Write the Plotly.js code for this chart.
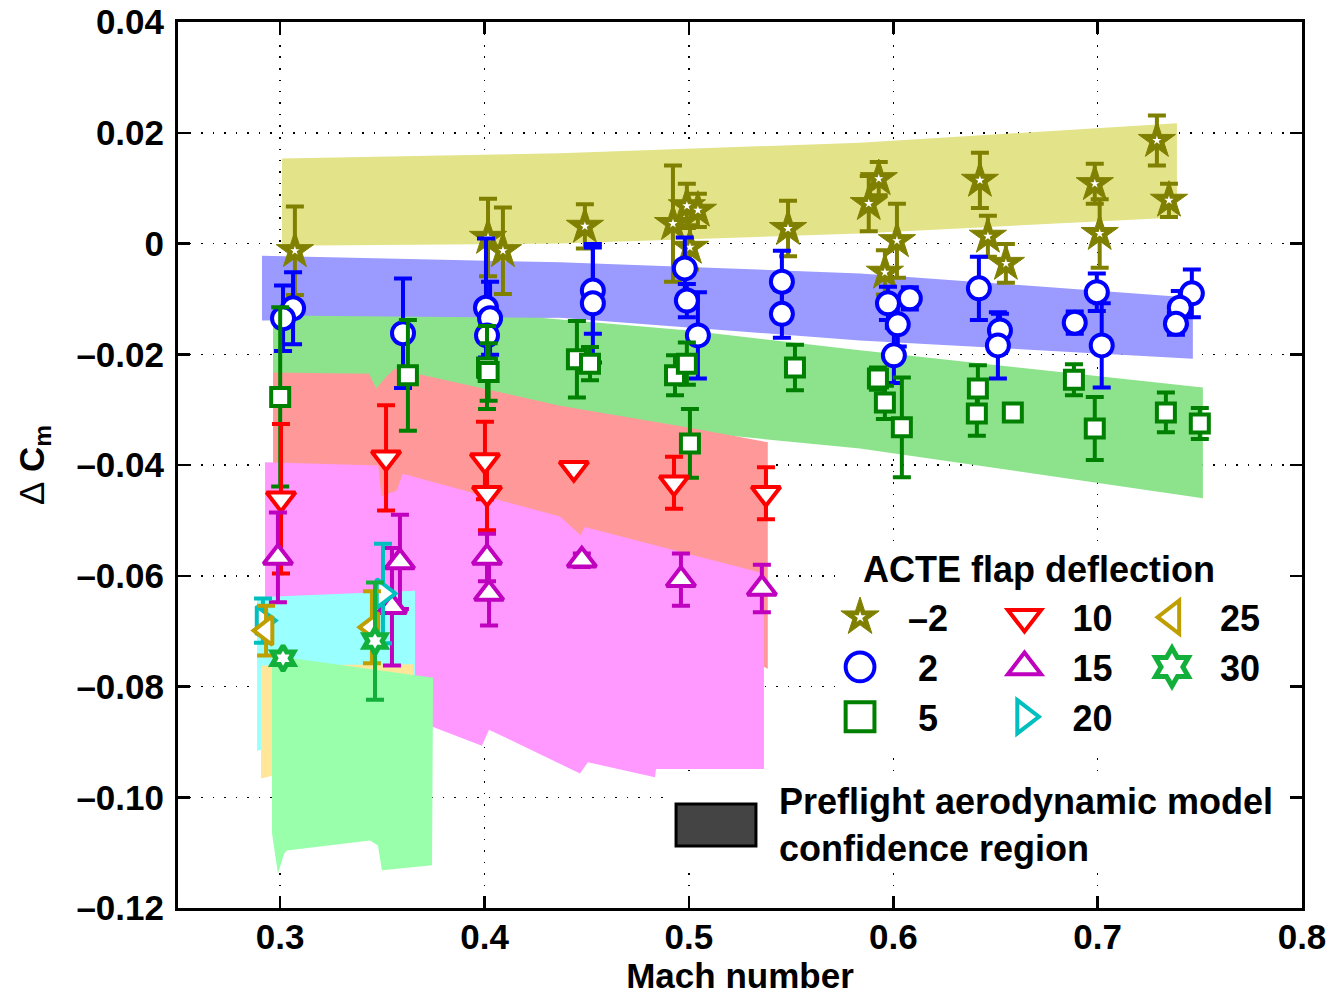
<!DOCTYPE html>
<html>
<head>
<meta charset="utf-8">
<script src="https://cdn.plot.ly/plotly-3.0.1.min.js"></script>
<style>
  html, body { margin: 0; padding: 0; background: #fff; }
  #chart { width: 1332px; height: 995px; }
</style>
</head>
<body>
<div id="chart"></div>
<script>
// ---------- Flight data: ACTE flap deflection series (Mach, delta Cm, error) ----------
const machM2 = [0.3072, 0.4017, 0.4090, 0.4491, 0.4922, 0.4990, 0.5044, 0.5005, 0.5485, 0.5929, 0.5880, 0.6018, 0.5959, 0.6424, 0.6463, 0.6551, 0.6986, 0.7010, 0.7290, 0.7349];
const dcmM2  = [-0.0013, 0.0011, -0.0013, 0.0031, 0.0036, 0.0068, 0.0060, -0.0007, 0.0027, 0.0117, 0.0072, 0.0005, -0.0052, 0.0114, 0.0013, -0.0036, 0.0108, 0.0018, 0.0186, 0.0078];
const errM2  = [0.0080, 0.0070, 0.0078, 0.0040, 0.0105, 0.0040, 0.0030, 0.0040, 0.0050, 0.0030, 0.0050, 0.0067, 0.0040, 0.0050, 0.0037, 0.0035, 0.0036, 0.0062, 0.0045, 0.0030];

const mach2 = [0.3063, 0.3014, 0.3601, 0.4007, 0.4027, 0.4012, 0.4530, 0.4530, 0.4980, 0.4990, 0.5044, 0.5455, 0.5455, 0.5974, 0.6081, 0.6022, 0.6003, 0.6419, 0.6522, 0.6512, 0.6888, 0.6996, 0.7020, 0.7461, 0.7402, 0.7383];
const dcm2  = [-0.0117, -0.0135, -0.0162, -0.0116, -0.0135, -0.0166, -0.0085, -0.0108, -0.0045, -0.0103, -0.0166, -0.0069, -0.0127, -0.0108, -0.0099, -0.0146, -0.0202, -0.0081, -0.0157, -0.0184, -0.0143, -0.0088, -0.0184, -0.0090, -0.0116, -0.0145];
const err2  = [0.0065, 0.0059, 0.0099, 0.0125, 0.0066, 0.0040, 0.0078, 0.0107, 0.0056, 0.0030, 0.0078, 0.0056, 0.0043, 0.0030, 0.0020, 0.0040, 0.0050, 0.0057, 0.0030, 0.0060, 0.0020, 0.0034, 0.0076, 0.0043, 0.0030, 0.0020];

const mach5 = [0.3000, 0.3625, 0.4012, 0.4020, 0.4452, 0.4516, 0.4932, 0.4990, 0.5005, 0.5519, 0.5925, 0.5959, 0.6042, 0.6414, 0.6409, 0.6585, 0.6884, 0.6986, 0.7334, 0.7500];
const dcm5  = [-0.0277, -0.0238, -0.0224, -0.0232, -0.0209, -0.0217, -0.0238, -0.0217, -0.0361, -0.0224, -0.0244, -0.0287, -0.0332, -0.0262, -0.0307, -0.0305, -0.0246, -0.0334, -0.0305, -0.0325];
const err5  = [0.0162, 0.0100, 0.0075, 0.0052, 0.0069, 0.0030, 0.0036, 0.0038, 0.0062, 0.0041, 0.0020, 0.0030, 0.0090, 0.0042, 0.0040, 0.0015, 0.0028, 0.0057, 0.0036, 0.0028];

const mach10 = [0.3004, 0.3518, 0.4002, 0.4012, 0.4437, 0.4927, 0.5377];
const dcm10  = [-0.0461, -0.0387, -0.0392, -0.0451, -0.0406, -0.0432, -0.0451];
const err10  = [0.0135, 0.0095, 0.0070, 0.0067, 0.0000, 0.0047, 0.0047];

const mach15 = [0.2989, 0.3586, 0.3547, 0.4012, 0.4022, 0.4476, 0.4961, 0.5357];
const dcm15  = [-0.0567, -0.0575, -0.0656, -0.0567, -0.0632, -0.0572, -0.0607, -0.0623];
const err15  = [0.0081, 0.0085, 0.0106, 0.0043, 0.0058, 0.0012, 0.0047, 0.0043];

const mach20 = [0.2916, 0.3503];
const dcm20  = [-0.0681, -0.0632];
const err20  = [0.0040, 0.0090];

const mach25 = [0.2931, 0.3449];
const dcm25  = [-0.0699, -0.0693];
const err25  = [0.0045, 0.0065];

const mach30 = [0.3014, 0.3464];
const dcm30  = [-0.0749, -0.0718];
const err30  = [0.0010, 0.0106];

// ---------- Preflight model confidence regions (upper / lower boundaries) ----------
const bandM2TopX = [0.3009, 0.4369, 0.5837, 0.7388];
const bandM2Top  = [0.01535, 0.0163, 0.0182, 0.0217];
const bandM2BotX = [0.3009, 0.4369, 0.5837, 0.7388];
const bandM2Bot  = [-0.0004, 0.0000, 0.0018, 0.0047];

const band2TopX = [0.2911, 0.4369, 0.5837, 0.7466];
const band2Top  = [-0.0022, -0.0034, -0.0054, -0.0098];
const band2BotX = [0.2911, 0.4369, 0.5837, 0.7466];
const band2Bot  = [-0.0139, -0.0134, -0.0175, -0.0208];

const band5TopX = [0.2965, 0.4271, 0.5000, 0.5837, 0.7515];
const band5Top  = [-0.0130, -0.0134, -0.0157, -0.0193, -0.0260];
const band5BotX = [0.2965, 0.4271, 0.5000, 0.5837, 0.7515];
const band5Bot  = [-0.0280, -0.0310, -0.0340, -0.0370, -0.0460];

const band10TopX = [0.2965, 0.3435, 0.3470, 0.3520, 0.3560, 0.4369, 0.4990, 0.5386];
const band10Top  = [-0.0233, -0.0235, -0.0262, -0.0240, -0.0226, -0.0293, -0.0332, -0.0359];
const band10BotX = [0.2965, 0.3500, 0.4369, 0.4990, 0.5386];
const band10Bot  = [-0.0460, -0.0510, -0.0600, -0.0700, -0.0768];

const band15TopX = [0.2926, 0.3480, 0.3495, 0.3570, 0.3600, 0.4369, 0.4470, 0.4490, 0.5367];
const band15Top  = [-0.0395, -0.0401, -0.0457, -0.0446, -0.0416, -0.0493, -0.0527, -0.0512, -0.0596];
const band15BotX = [0.2926, 0.3748, 0.3987, 0.4022, 0.4467, 0.4506, 0.4834, 0.4839, 0.5367];
const band15Bot  = [-0.0850, -0.0873, -0.0907, -0.0878, -0.0957, -0.0937, -0.0964, -0.0949, -0.0949];

const band20TopX = [0.2887, 0.3660];
const band20Top  = [-0.0639, -0.0627];
const band20BotX = [0.2887, 0.3660];
const band20Bot  = [-0.0916, -0.0850];

const band25TopX = [0.2906, 0.3650];
const band25Top  = [-0.0762, -0.0760];
const band25BotX = [0.2906, 0.3650];
const band25Bot  = [-0.0966, -0.0900];

const band30TopX = [0.2960, 0.3748];
const band30Top  = [-0.0744, -0.0784];
const band30BotX = [0.2960, 0.2989, 0.3019, 0.3033, 0.3439, 0.3478, 0.3498, 0.3743];
const band30Bot  = [-0.1065, -0.1138, -0.1102, -0.1096, -0.1078, -0.1087, -0.1132, -0.1123];

// ---------- Labels ----------
const legendLabels = ['\u20132', '\u00a02', '\u00a05', '10', '15', '20', '25', '30'];
const legendTitle = 'ACTE flap deflection';
const modelLabel = 'Preflight aerodynamic model<br>confidence region';
const xTitle = 'Mach number';
const yTitle = '<span style="font-weight:normal">\u0394</span> C<sub>m</sub>';
const xTickVals = [0.3, 0.4, 0.5, 0.6, 0.7, 0.8];
const xTickText = ['0.3', '0.4', '0.5', '0.6', '0.7', '0.8'];
const yTickVals = [-0.12, -0.10, -0.08, -0.06, -0.04, -0.02, 0, 0.02, 0.04];
const yTickText = ['\u20130.12', '\u20130.10', '\u20130.08', '\u20130.06', '\u20130.04', '\u20130.02', '0', '0.02', '0.04'];

// ---------- Build ----------
const FONT = 'Liberation Sans, Arial, Helvetica, sans-serif';

function band(topX, top, botX, bot, color) {
  return {
    type: 'scatter', mode: 'none', fill: 'toself', fillcolor: color,
    x: topX.concat(botX.slice().reverse()),
    y: top.concat(bot.slice().reverse()),
    showlegend: false, hoverinfo: 'skip'
  };
}

function series(x, y, err, name, symbol, color, size, lw, legend, fill) {
  return {
    type: 'scatter', mode: 'markers', name: name, x: x, y: y, legend: legend,
    error_y: { type: 'data', array: err, visible: true, color: color, thickness: 4, width: 9 },
    marker: { symbol: symbol, size: size, color: fill || '#ffffff', line: { color: color, width: lw } },
    cliponaxis: false
  };
}

const traces = [
  band(bandM2TopX, bandM2Top, bandM2BotX, bandM2Bot, '#e3e38a'),
  band(band2TopX, band2Top, band2BotX, band2Bot, '#9a9aff'),
  band(band5TopX, band5Top, band5BotX, band5Bot, '#8ce38c'),
  band(band10TopX, band10Top, band10BotX, band10Bot, '#ff9999'),
  band(band15TopX, band15Top, band15BotX, band15Bot, '#ff99ff'),
  band(band20TopX, band20Top, band20BotX, band20Bot, '#99ffff'),
  band(band25TopX, band25Top, band25BotX, band25Bot, '#ffe699'),
  band(band30TopX, band30Top, band30BotX, band30Bot, '#99ffaa'),

  series(machM2, dcmM2, errM2, legendLabels[0], 'star', '#808000', 28, 1, 'legend', '#808000'),
  { type: 'scatter', mode: 'markers', x: machM2, y: dcmM2, showlegend: false, hoverinfo: 'skip',
    marker: { symbol: 'star', size: 7, color: '#ffffff', line: { width: 0 } } },
  series(mach2, dcm2, err2, legendLabels[1], 'circle', '#0000ff', 22, 4, 'legend'),
  series(mach5, dcm5, err5, legendLabels[2], 'square', '#008000', 18, 4, 'legend'),
  series(mach10, dcm10, err10, legendLabels[3], 'triangle-down', '#ff0000', 25, 4, 'legend2'),
  series(mach15, dcm15, err15, legendLabels[4], 'triangle-up', '#bf00bf', 25, 4, 'legend2'),
  series(mach20, dcm20, err20, legendLabels[5], 'triangle-right', '#00bfbf', 25, 4, 'legend2'),
  series(mach25, dcm25, err25, legendLabels[6], 'triangle-left', '#bf9f00', 25, 4, 'legend3'),
  series(mach30, dcm30, err30, legendLabels[7], 'hexagram', '#12b03a', 19, 5, 'legend3')
];

function legendAt(x) {
  return {
    x: x, y: 0.362, xanchor: 'left', yanchor: 'top', orientation: 'v',
    bgcolor: 'rgba(0,0,0,0)', borderwidth: 0, itemwidth: 86, traceorder: 'normal',
    font: { family: FONT, size: 36, color: '#000', weight: 'bold' }
  };
}

const axisCommon = {
  showline: true, linecolor: '#000', linewidth: 3, mirror: 'ticks',
  ticks: 'inside', ticklen: 12, tickwidth: 2.5, tickcolor: '#000',
  showgrid: true, gridcolor: '#000', gridwidth: 1.5, griddash: '1.5px,10px',
  zeroline: false, tickmode: 'array',
  tickfont: { family: FONT, size: 35, color: '#000', weight: 'bold' }
};

const layout = {
  width: 1332, height: 995,
  margin: { l: 178, r: 30, t: 22, b: 87 },
  paper_bgcolor: '#fff', plot_bgcolor: '#fff',
  font: { family: FONT, color: '#000', weight: 'bold' },
  xaxis: Object.assign({}, axisCommon, {
    range: [0.25, 0.8], tickvals: xTickVals, ticktext: xTickText, ticklabelstandoff: -4,
    title: { text: xTitle, standoff: 14, font: { family: FONT, size: 35, color: '#000', weight: 'bold' } }
  }),
  yaxis: Object.assign({}, axisCommon, {
    range: [-0.12, 0.04], tickvals: yTickVals, ticktext: yTickText, ticklabelstandoff: 4,
    title: { text: yTitle, standoff: 22, font: { family: FONT, size: 35, color: '#000', weight: 'bold' } }
  }),
  legend: legendAt(0.5641),
  legend2: legendAt(0.7104),
  legend3: legendAt(0.8416),
  shapes: [
    { type: 'rect', xref: 'paper', yref: 'paper', x0: 0.5845, x1: 0.9875, y0: 0.1806, y1: 0.4097,
      fillcolor: '#ffffff', line: { width: 0 }, layer: 'above' },
    { type: 'rect', xref: 'paper', yref: 'paper', x0: 0.4333, x1: 0.9849, y0: 0.0429, y1: 0.1456,
      fillcolor: '#ffffff', line: { width: 0 }, layer: 'above' },
    { type: 'rect', xref: 'paper', yref: 'paper', x0: 0.4431, x1: 0.5142, y0: 0.0700, y1: 0.1174,
      fillcolor: '#444444', line: { color: '#000', width: 3 }, layer: 'above' }
  ],
  annotations: [
    { text: legendTitle, xref: 'paper', yref: 'paper', x: 0.766, y: 0.3826, xanchor: 'center', yanchor: 'middle',
      showarrow: false, font: { family: FONT, size: 36, color: '#000', weight: 'bold' } },
    { text: modelLabel, xref: 'paper', yref: 'paper', x: 0.5329, y: 0.0937, xanchor: 'left', yanchor: 'middle',
      align: 'left', showarrow: false, font: { family: FONT, size: 36, color: '#000', weight: 'bold' } }
  ]
};

Plotly.newPlot('chart', traces, layout, { staticPlot: true, displayModeBar: false }).then(function (gd) {
  const S = 1.8;
  gd.querySelectorAll('.infolayer .legendpoints path.scatterpts').forEach(function (p) {
    const t = p.getAttribute('transform') || '';
    p.setAttribute('transform', t + ' scale(' + S + ')');
    const sw = parseFloat(p.style.strokeWidth) || 0;
    p.style.strokeWidth = (sw / S) + 'px';
  });
  gd.querySelectorAll('.infolayer g.traces').forEach(function (g) {
    const txt = g.querySelector('text.legendtext');
    const p = g.querySelector('.legendpoints path.scatterpts');
    if (!txt || !p) return;
    if (txt.textContent === legendLabels[7]) {
      // thicker outline on the hexagram, as in the plot
      p.style.strokeWidth = '3.2px';
    }
    if (txt.textContent === legendLabels[0]) {
      // white centre on the -2 legend star, as on the plotted stars
      const c = p.cloneNode(true);
      const t = (p.getAttribute('transform') || '').replace(/scale\([^)]*\)/, 'scale(' + (S * 0.3) + ')');
      c.setAttribute('transform', t);
      c.style.fill = '#ffffff';
      c.style.stroke = 'none';
      p.parentNode.appendChild(c);
    }
  });
});
</script>
</body>
</html>
